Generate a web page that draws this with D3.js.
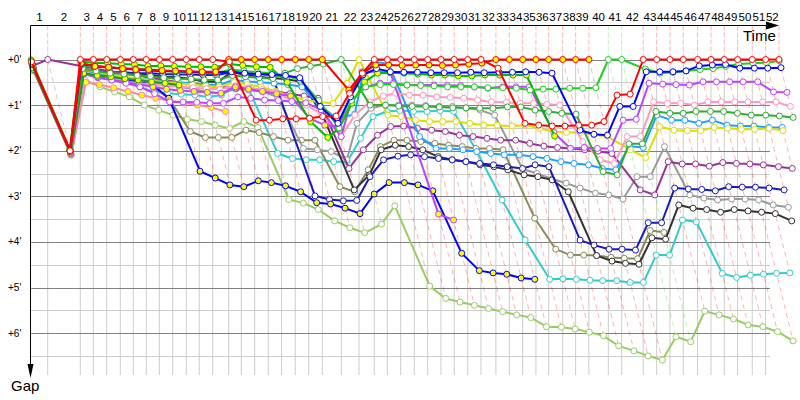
<!DOCTYPE html>
<html>
<head>
<meta charset="utf-8">
<script src="https://cdn.jsdelivr.net/npm/d3@7"></script>
<style>
body { margin: 0; background: #fff; }
text { font-family: "Liberation Sans", Arial, sans-serif; }
</style>
</head>
<body>
<svg width="800" height="400"></svg>
<script>
// leader's running time (minutes) at the end of each lap, index 0 = start
var leaderTime = [0, 1.50, 4.42, 5.59, 6.79, 8.01, 9.17, 10.34, 11.51, 12.71, 13.93, 15.09, 16.30,
    17.73, 18.86, 20.06, 21.28, 22.48, 23.70, 24.91, 26.13, 27.83, 29.42, 30.79, 31.96, 33.16,
    34.38, 35.58, 36.77, 37.96, 39.17, 40.36, 41.70, 42.90, 44.10, 45.29, 46.43, 47.69, 48.85,
    50.04, 51.78, 52.98, 54.91, 56.12, 57.31, 58.50, 59.79, 60.99, 62.18, 63.38, 64.69, 65.89, 67.09];

var lapLabels = d3.range(1, 53);
var gapTicks = [0, 1, 2, 3, 4, 5, 6];
var gapHalfTicks = [0.5, 1.5, 2.5, 3.5, 4.5, 5.5, 6.5];

// gap to leader (minutes) for each lap, one list per car
var red1 = [0.05, 2.0, 0,0,0,0,0,0,0,0,0,0,0, 0.05, 1.33,1.33,1.30,1.30,1.29,1.25,1.24, 0.74,0.30,
    0,0,0,0,0,0,0,0,0, 0.19,1.40,1.44,1.46,1.46,1.44,1.44,1.36, 0.78,0.76, 0,0,0,0,0,0,0,0,0,0,0];
var red2 = [0.10, 2.02, 0.08,0.15,0.17,0.20,0.22,0.22,0.24,0.25,0.26,0.27,0.27, 0,0,0,0,0,0,0,0,
    0.67,0.30, 0.12,0.12,0.13,0.12,0.12,0.13,0.12,0.10,0.08, 0,0,0,0,0,0,0,0];
var greenA = [0.12, 2.00, 0.12,0.15,0.18,0.20,0.20,0.22,0.25,0.27,0.28,0.30,0.30, 0.22,0.25,0.28,0.30,0.35,0.45,0.90,1.50,
    0.90,0.60, 0.55,0.55,0.56,0.57,0.58,0.60,0.60,0.60,0.62, 0.62,0.63,0.67,0.65,0.65,0.63,0.63,0.62, 0,0,
    0.21,0.30,0.28,0.25,0.22,0.20,0.15,0.10,0.08,0.07,0.03];
var greenB = [0.18, 2.05, 0.20,0.25,0.30,0.32,0.35,0.37,0.40,0.42,0.43,0.45,0.45, 0.35,0.38,0.40,0.42,0.30,0.20,0.15,0.10,
    0,1.00, 1.00,1.02,1.03,1.03,1.04,1.06,1.06,1.07,1.07, 1.04,1.04,1.11,1.14,1.18,1.20,2.46,2.53, 1.85,1.85,
    1.14,1.18,1.18,1.14,1.14,1.14,1.18,1.22,1.22,1.24,1.27];
var greenY = [0.02, 1.98, 0.05,0.07,0.08,0.10,0.11,0.14,0.14,0.15,0.16,0.16,0.17, 0.10,0.13,0.16,0.17,0.50,1.36,1.71,1.51,
    0.96,0.49, 0.30,0.29,0.30,0.32,0.34,0.34,0.36,0.36,0.34, 0.34,0.34,0.34,1.68];
var darkGreenY = [0.22, 2.05, 0.30,0.35,0.38,0.42,0.45,0.49,0.52,0.56];
var blue1 = [0.10, 2.00, 0.10,0.14,0.17,0.20,0.22,0.24,0.25,0.26,0.27,0.28,0.28, 0.27,0.30,0.32,0.33,0.35,0.40,1.03,1.40,
    0.82,0.34, 0.20,0.27,0.28,0.28,0.29,0.29,0.29,0.28,0.29, 0.28,0.28,0.27,0.28,0.30,1.55,1.64,1.66, 1.03,1.03,
    0.27,0.27,0.27,0.25,0.14,0.12,0.11,0.19,0.19,0.19,0.18];
var blue2 = [0.15, 2.00, 0.25,0.30,0.35,0.42,0.50,0.55,0.85,2.45,2.60,2.75,2.79, 2.66,2.70,2.77,2.90,3.14,3.17,3.26,3.38,
    2.95,2.70, 2.70,2.75,2.88,4.25,4.63,4.68,4.71,4.79,4.82];
var navy = [0.20, 2.05, 0.22,0.25,0.27,0.28,0.30,0.30,0.32,0.33,0.33,0.34,0.34, 0.28,0.30,0.32,0.34,2.99,3.07,3.10,3.09,
    2.57,2.20, 2.12,2.09,2.13,2.17,2.20,2.24,2.28,2.31,2.35, 2.39,2.31,2.35,3.96,4.07,4.16,4.16,4.18, 3.58,3.58,
    2.82,2.84,2.85,2.88,2.79,2.80,2.80,2.82,2.86];
var black = [0.15, 2.00, 0.20,0.25,0.28,0.30,0.32,0.34,0.38,0.39,0.43,0.49,0.49, 0.27,0.34,0.38,0.41,0.43,0.49,1.18,2.86,
    2.53,1.98, 1.88,1.91,1.98,2.13,2.20,2.24,2.31,2.35,2.42, 2.53,2.57,2.64,2.90,4.30,4.42,4.47,4.49, 3.91,3.94,
    3.19,3.26,3.29,3.35,3.29,3.32,3.35,3.38,3.54];
var olive = [0.22, 2.05, 0.30,0.35,0.40,0.45,0.50,0.60,0.85,1.58,1.71,1.71,1.71, 1.55,1.60,1.69,1.77,1.77,1.77,2.79,2.90,
    2.42,1.91, 1.77,1.77,1.80,1.84,1.88,1.91,1.95,1.95,1.98, 3.48,4.16,4.29,4.29,4.30,4.34,4.36,4.37, 3.75,3.79];
var grey = [0.20, 2.02, 0.28,0.32,0.36,0.40,0.45,0.50,0.55,0.60,0.65,0.71,0.74, 0.65,0.67,0.71,0.82,1.95,1.98,2.02,2.20,
    1.40,1.07, 1.00,1.00,1.00,1.01,1.03,1.03,1.07,1.11,1.22, 2.40,2.50,2.62,2.71,2.82,2.93,2.97,3.06, 2.57,2.57,
    1.91,2.97,3.04,3.08,3.06,3.06,3.08,3.19,3.24];
var cyan = [0.25, 2.08, 0.30,0.33,0.35,0.38,0.60,0.71,0.74,0.76,0.78,0.82,0.78, 0.60,0.63,2.06,2.17,2.20,2.20,2.24,2.24,
    1.73,1.25, 1.14,1.12,1.14,1.14,1.12,1.14,2.00,3.08,3.96, 4.82,4.81,4.82,4.84,4.85,4.85,4.89,4.89, 4.29,4.29,
    3.52,3.56,4.69,4.78,4.73,4.71,4.69,4.68];
var lime = [0.25, 2.10, 0.45,0.60,0.71,0.82,1.00,1.11,1.22,1.31,1.36,1.44,1.51, 1.36,1.49,3.07,3.15,3.29,3.54,3.69,3.80,
    3.61,3.21, 4.97,5.24,5.32,5.39,5.46,5.53,5.60,5.66,5.86, 5.87,5.91,5.98,6.06,6.28,6.39,6.50,6.59, 6.08,6.19,
    5.52,5.60,5.69,5.82,5.86,5.97,6.17];
var purple = [0.14, 0, 0.15,0.20,0.25,0.30,0.35,0.40,0.45,0.50,0.55,0.58,0.60, 0.63,0.63,0.67,0.70,0.75,0.80,0.85,2.39,
    1.98,1.66, 1.47,1.46,1.51,1.55,1.58,1.66,1.69,1.73,1.77, 1.77,1.84,1.90,1.93,1.95,1.98,2.01,2.06, 2.86,2.97,
    2.24,2.29,2.29,2.34,2.26,2.28,2.29,2.31,2.35,2.39];
var pink1 = [0.22, 2.08, 0.27,0.35,0.42,0.48,0.52,0.55,0.58,0.60,0.62,0.64,0.65, 0.58,0.62,0.66,0.72,0.90,1.00,1.20,1.69,
    1.22,0.93, 0.80,0.74,0.78,0.78,0.82,0.83,0.85,0.89,0.93, 0.94,0.96,0.96,0.98,1.00,1.80,2.20,2.28, 1.69,1.69,
    0.93,0.96,0.96,1.00,0.93,0.93,0.93,0.93,0.93,0.93,1.03];
var pink2 = [0.24, 2.10, 0.50,0.55,0.62,0.70,0.78,0.85,0.90,0.95,1.00,1.05,1.14];
var violet1 = [0.18, 2.05, 0.30,0.38,0.45,0.52,0.60,0.75,0.93,0.93,0.94,0.96,0.96, 0.82,0.85,0.89,0.90,0.92,0.95,1.10,1.69,
    0.90,0.60, 0.52,0.52,0.56,0.56,0.56,0.57,0.57,0.60,0.63, 0.60,0.60,0.60,1.60,1.95,1.93,1.95,1.95, 1.33,1.31,
    0.52,0.54,0.55,0.56,0.49,0.49,0.49,0.49,0.49,0.71,0.72];
var violet2 = [0.20, 2.07, 0.32,0.40,0.45,0.50,0.55,0.60,0.65,0.68,0.70,0.72,0.74, 0.60,0.65,0.70,0.75,0.80,1.29,1.44,1.47,
    0.80,0.27, 0.27,0.29,3.39,3.52];
var skyBlue = [0.16, 2.03, 0.25,0.30,0.35,0.40,0.42,0.45,0.48,0.50,0.52,0.55,0.56, 0.45,0.48,0.50,0.52,0.55,0.60,1.00,1.30,
    1.20,0.34, 0.05,0.10,1.69,1.95,1.95,1.98,2.02,2.06,2.09, 2.09,2.13,2.17,2.24,2.28,2.31,2.39,2.42, 1.90,1.93,
    1.22,1.33,1.33,1.40,1.33,1.44,1.46,1.46,1.49,1.49];
var yellow = [0, 1.95, 0.20,0.28,0.33,0.38,0.42,0.46,0.50,0.52,0.55,0.58,0.60, 0.50,0.55,0.60,0.70,0.80,0.89,0.93,0.96,
    0.52,0, 1.22,1.25,1.33,1.36,1.36,1.36,1.40,1.44,1.44, 1.46,1.44,1.51,1.58,1.60,1.60,1.65,1.69, 1.98,2.15,
    1.47,1.55,1.56,1.56,1.49,1.51,1.53,1.53,1.51,1.56];

// drawing order: first is drawn underneath
var cars = [
    {gaps: lime, color: '#99cc66', fill: '#fff'},
    {gaps: cyan, color: '#33cccc', fill: '#fff'},
    {gaps: olive, color: '#8b8b5a', fill: '#fff'},
    {gaps: grey, color: '#999999', fill: '#fff'},
    {gaps: black, color: '#333333', fill: '#fff'},
    {gaps: navy, color: '#1a1ab8', fill: '#fff'},
    {gaps: blue2, color: '#0000ff', fill: '#ffff00'},
    {gaps: purple, color: '#993399', fill: '#fff'},
    {gaps: skyBlue, color: '#1ea0ff', fill: '#fff'},
    {gaps: yellow, color: '#dddd00', fill: '#fff'},
    {gaps: pink2, color: '#ff8899', fill: '#ffff00'},
    {gaps: pink1, color: '#ff99bb', fill: '#fff'},
    {gaps: violet2, color: '#bb44ff', fill: '#ffff00'},
    {gaps: violet1, color: '#bb44ff', fill: '#fff'},
    {gaps: darkGreenY, color: '#229922', fill: '#ffff00'},
    {gaps: greenB, color: '#33aa33', fill: '#fff'},
    {gaps: greenY, color: '#00bb00', fill: '#ffff00'},
    {gaps: greenA, color: '#22cc22', fill: '#fff'},
    {gaps: blue1, color: '#0000ff', fill: '#fff'},
    {gaps: red2, color: '#ff0000', fill: '#ffff00'},
    {gaps: red1, color: '#ff0000', fill: '#fff'}
];

var svg = d3.select('svg');

var x = d3.scaleLinear()
    .domain([0, leaderTime[leaderTime.length - 1]])
    .range([31, 779]);

var y = d3.scaleLinear()
    .domain([0, 7])
    .range([59.5, 378.7]);

var gridRight = 770,
    gridBottom = 375,
    axisTop = 25.5,
    axisLeft = 30.5;

// leader and slowest car on each lap
var laps = leaderTime.map(function(t, i) {
    var lead = null, maxGap = 0;
    cars.forEach(function(c) {
        var g = c.gaps[i];
        if (g == null) return;
        if (lead == null || g < lead.gaps[i]) lead = c;
        if (g > maxGap) maxGap = g;
    });
    return {lap: i, time: t, color: lead.color, maxGap: maxGap};
});

//GRID
var grid = svg.append('g');

grid.selectAll('.vgrid')
    .data(laps.filter(function(d) { return d.lap > 0 && d.lap < 52; }))
    .enter().append('line')
    .attr('x1', function(d) { return x(d.time); })
    .attr('x2', function(d) { return x(d.time); })
    .attr('y1', y(0))
    .attr('y2', gridBottom)
    .attr('stroke', '#cccccc')
    .attr('stroke-width', 1);

grid.selectAll('.hhalf')
    .data(gapHalfTicks)
    .enter().append('line')
    .attr('x1', axisLeft)
    .attr('x2', gridRight)
    .attr('y1', function(d) { return Math.round(y(d)) + 0.5; })
    .attr('y2', function(d) { return Math.round(y(d)) + 0.5; })
    .attr('stroke', '#cccccc');

grid.selectAll('.hmain')
    .data(gapTicks)
    .enter().append('line')
    .attr('x1', axisLeft)
    .attr('x2', gridRight)
    .attr('y1', function(d) { return Math.round(y(d)) + 0.5; })
    .attr('y2', function(d) { return Math.round(y(d)) + 0.5; })
    .attr('stroke', '#808080');

//LAP LINES (leader colour)
var lapLines = svg.append('g');

lapLines.selectAll('.lapTop')
    .data(laps)
    .enter().append('line')
    .attr('x1', function(d) { return x(d.time); })
    .attr('x2', function(d) { return x(d.time); })
    .attr('y1', axisTop)
    .attr('y2', y(0))
    .attr('stroke', function(d) { return d.color; })
    .attr('stroke-opacity', 0.3)
    .attr('stroke-dasharray', '5,2');

lapLines.selectAll('.lapDiag')
    .data(laps)
    .enter().append('line')
    .attr('x1', function(d) { return x(d.time); })
    .attr('y1', y(0))
    .attr('x2', function(d) { return x(d.time + d.maxGap); })
    .attr('y2', function(d) { return y(d.maxGap); })
    .attr('stroke', function(d) { return d.color; })
    .attr('stroke-opacity', 0.3)
    .attr('stroke-dasharray', '5,4');

//CARS
var line = d3.line()
    .defined(function(d) { return d != null; })
    .x(function(d, i) { return x(leaderTime[i] + d); })
    .y(function(d) { return y(d); });

var carG = svg.selectAll('.car')
    .data(cars)
    .enter().append('g')
    .attr('class', 'car');

carG.append('path')
    .attr('d', function(c) { return line(c.gaps); })
    .attr('fill', 'none')
    .attr('stroke', function(c) { return c.color; })
    .attr('stroke-width', 2)
    .attr('stroke-linejoin', 'round');

carG.selectAll('circle')
    .data(function(c) {
        return c.gaps.map(function(g, i) { return {gap: g, lap: i, car: c}; });
    })
    .enter().append('circle')
    .attr('cx', function(d) { return x(leaderTime[d.lap] + d.gap); })
    .attr('cy', function(d) { return y(d.gap); })
    .attr('r', 3)
    .attr('fill', function(d) { return d.car.fill; })
    .attr('stroke', function(d) { return d.car.color; })
    .attr('stroke-width', 1);

//AXES
svg.append('line')
    .attr('x1', axisLeft).attr('x2', 768)
    .attr('y1', axisTop).attr('y2', axisTop)
    .attr('stroke', '#000');
svg.append('path')
    .attr('d', 'M766,21.5 L779,25.5 L766,29.5 Z')
    .attr('fill', '#000');

svg.append('line')
    .attr('x1', axisLeft).attr('x2', axisLeft)
    .attr('y1', axisTop).attr('y2', 366)
    .attr('stroke', '#000');
svg.append('path')
    .attr('d', 'M27.5,364 L33.5,364 L30.5,378 Z')
    .attr('fill', '#000');

svg.append('text')
    .text('Time')
    .attr('x', 743)
    .attr('y', 41)
    .attr('font-size', 15);

svg.append('text')
    .text('Gap')
    .attr('x', 11)
    .attr('y', 391)
    .attr('font-size', 15);

svg.selectAll('.lapLabel')
    .data(lapLabels)
    .enter().append('text')
    .text(function(d) { return d; })
    .attr('x', function(d) { return (x(leaderTime[d - 1]) + x(leaderTime[d])) / 2; })
    .attr('y', 21)
    .attr('text-anchor', 'middle')
    .attr('font-size', 11.5);

svg.selectAll('.gapLabel')
    .data(gapTicks)
    .enter().append('text')
    .text(function(d) { return '+' + d + "'"; })
    .attr('x', 8)
    .attr('y', function(d) { return y(d) + 3.5; })
    .attr('font-size', 10);
</script>
</body>
</html>
